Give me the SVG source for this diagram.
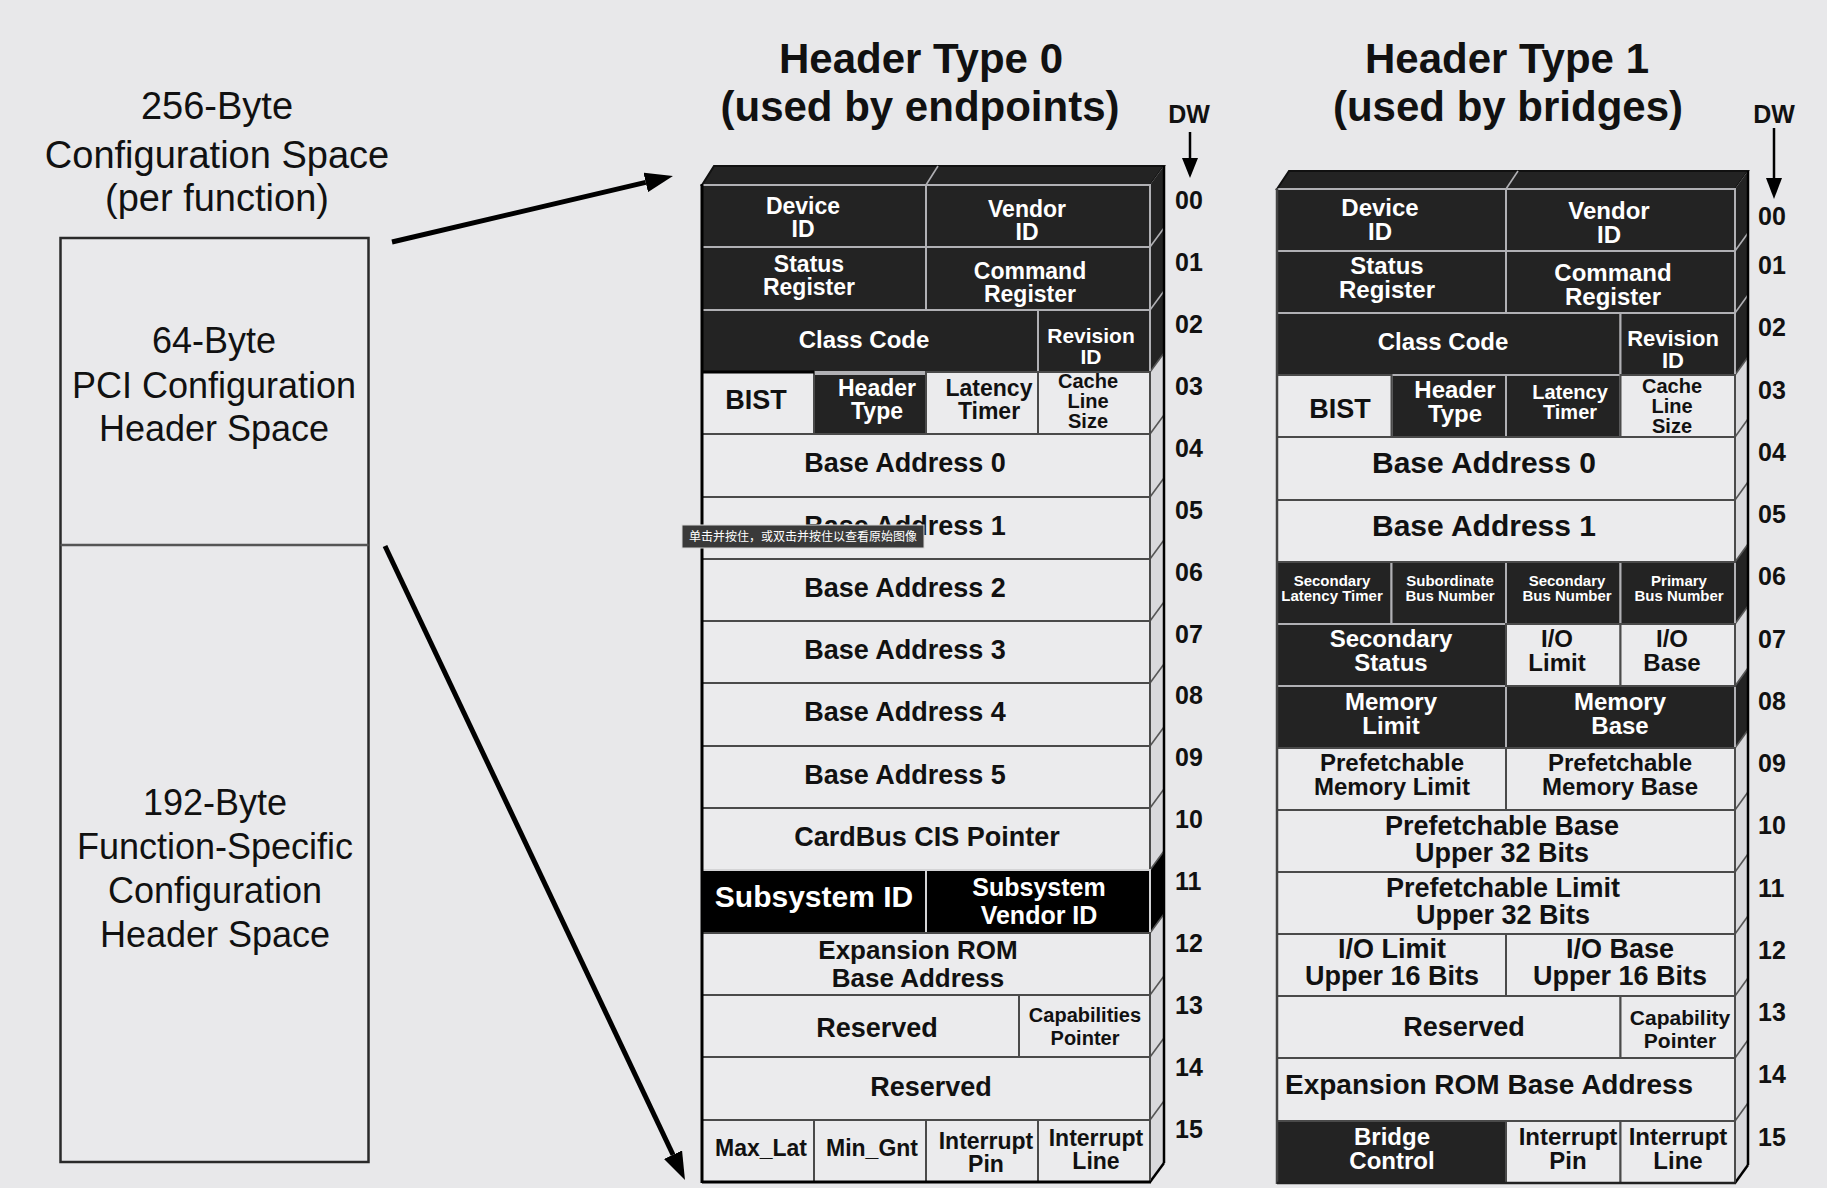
<svg xmlns="http://www.w3.org/2000/svg" width="1827" height="1188" viewBox="0 0 1827 1188">
<defs>
<style>
.bg{fill:#e8e8ea}
.d{fill:#232323;stroke:#b0b0b4;stroke-width:2}
.k{fill:#000;stroke:#d4d4d6;stroke-width:2}
.l{fill:#ebebed;stroke:#4a4a4a;stroke-width:2}
.sl{fill:#d9d9dc}
.sd{fill:#232323}
.dl{stroke:#b0b0b4;stroke-width:1.6;fill:none}
.dg{stroke:#555;stroke-width:1.6;fill:none}
.edge{stroke:#000;stroke-width:3;fill:none}
.t{font-family:"Liberation Sans",Arial,Helvetica,sans-serif;font-weight:bold;text-anchor:middle;fill:#111}
.w{fill:#fff}
.r{font-family:"Liberation Sans",Arial,Helvetica,sans-serif;text-anchor:middle;fill:#111}
.n{font-family:"Liberation Sans",Arial,Helvetica,sans-serif;font-weight:bold;font-size:25px;fill:#111}
.s23{font-size:23px}.s24{font-size:24px}.s22{font-size:22px}.s20{font-size:20px}.s21{font-size:21px}
.s25{font-size:25px}.s26{font-size:26px}.s27{font-size:27px}.s28{font-size:28px}.s30{font-size:30px}.s15{font-size:15px}
</style>
<marker id="ah" viewBox="0 0 28 20" refX="0" refY="10" markerWidth="28" markerHeight="20" markerUnits="userSpaceOnUse" orient="auto">
<path d="M0,0 L28,10 L0,20 z" fill="#000"/>
</marker>
</defs>
<rect class="bg" x="0" y="0" width="1827" height="1188"/>

<!-- Left: 256-byte configuration space -->
<g id="config-space">
<text class="r" font-size="38" x="217" y="119">256-Byte</text>
<text class="r" font-size="38" x="217" y="168">Configuration Space</text>
<text class="r" font-size="38" x="217" y="211">(per function)</text>
<rect x="60.5" y="238" width="308" height="924" fill="#e9e9eb" stroke="#2a2a2a" stroke-width="2.5"/>
</g>
<g id="pci-header-space">
<line x1="60.5" y1="545" x2="368.5" y2="545" stroke="#555" stroke-width="2.5"/>
<text class="r" font-size="36" x="214" y="353">64-Byte</text>
<text class="r" font-size="36" x="214" y="398">PCI Configuration</text>
<text class="r" font-size="36" x="214" y="441">Header Space</text>
</g>
<g id="function-specific-space">
<text class="r" font-size="36" x="215" y="815">192-Byte</text>
<text class="r" font-size="36" x="215" y="859">Function-Specific</text>
<text class="r" font-size="36" x="215" y="903">Configuration</text>
<text class="r" font-size="36" x="215" y="947">Header Space</text>
</g>

<!-- Connectors -->
<g id="connectors" stroke="#000" fill="#000">
<line x1="392" y1="242" x2="645.7" y2="182.4" stroke-width="5" marker-end="url(#ah)"/>
<line x1="385" y1="546" x2="673" y2="1154.7" stroke-width="5" marker-end="url(#ah)"/>
<line x1="1190" y1="132" x2="1190" y2="160" stroke-width="2.5"/>
<polygon points="1182,158 1198,158 1190,178" stroke="none"/>
<line x1="1774" y1="128" x2="1774" y2="180" stroke-width="2.5"/>
<polygon points="1766,178 1782,178 1774,199" stroke="none"/>
</g>

<!-- Titles -->
<g id="title-type0">
<text class="t" font-size="42" x="921" y="73">Header Type 0</text>
<text class="t" font-size="42" x="920" y="121">(used by endpoints)</text>
<text class="t" font-size="25" x="1189" y="123">DW</text>
</g>
<g id="title-type1">
<text class="t" font-size="42" x="1507" y="73">Header Type 1</text>
<text class="t" font-size="42" x="1508" y="121">(used by bridges)</text>
<text class="t" font-size="25" x="1774" y="123">DW</text>
</g>

<!-- ============ TABLE 0 ============ -->
<g id="type0-frame">
<polygon points="702,185 714,166 1164,166 1150,185" fill="#232323" stroke="#111" stroke-width="2"/>
<line x1="926" y1="185" x2="938" y2="166" class="dl"/>
<polygon class="sl" points="1150,185 1164,166 1164,1163 1150,1182"/>
<polygon class="sd" points="1150,185 1164,166 1164,353 1150,372"/>
<polygon points="1150,870 1164,851 1164,914 1150,933" fill="#000"/>
<line class="dl" x1="1150" y1="247" x2="1164" y2="228"/>
<line class="dl" x1="1150" y1="310" x2="1164" y2="291"/>
<line class="dg" x1="1150" y1="372" x2="1164" y2="353"/>
<line class="dg" x1="1150" y1="434" x2="1164" y2="415"/>
<line class="dg" x1="1150" y1="497" x2="1164" y2="478"/>
<line class="dg" x1="1150" y1="559" x2="1164" y2="540"/>
<line class="dg" x1="1150" y1="621" x2="1164" y2="602"/>
<line class="dg" x1="1150" y1="683" x2="1164" y2="664"/>
<line class="dg" x1="1150" y1="746" x2="1164" y2="727"/>
<line class="dg" x1="1150" y1="808" x2="1164" y2="789"/>
<line class="dg" x1="1150" y1="870" x2="1164" y2="851"/>
<line class="dg" x1="1150" y1="933" x2="1164" y2="914"/>
<line class="dg" x1="1150" y1="995" x2="1164" y2="976"/>
<line class="dg" x1="1150" y1="1057" x2="1164" y2="1038"/>
<line class="dg" x1="1150" y1="1120" x2="1164" y2="1101"/>
<line x1="1164" y1="166" x2="1164" y2="1163" stroke="#000" stroke-width="2.5"/>
<line x1="1150" y1="1182" x2="1164" y2="1163" stroke="#000" stroke-width="2.5"/>
</g>

<g id="t0-device-id"><rect class="d" x="702" y="185" width="224" height="62"/><text class="t w s23"><tspan x="803" y="214">Device</tspan><tspan x="803" y="237">ID</tspan></text></g>
<g id="t0-vendor-id"><rect class="d" x="926" y="185" width="224" height="62"/><text class="t w s23"><tspan x="1027" y="217">Vendor</tspan><tspan x="1027" y="240">ID</tspan></text></g>
<g id="t0-status"><rect class="d" x="702" y="247" width="224" height="63"/><text class="t w s23"><tspan x="809" y="272">Status</tspan><tspan x="809" y="295">Register</tspan></text></g>
<g id="t0-command"><rect class="d" x="926" y="247" width="224" height="63"/><text class="t w s23"><tspan x="1030" y="279">Command</tspan><tspan x="1030" y="302">Register</tspan></text></g>
<g id="t0-class-code"><rect class="d" x="702" y="310" width="336" height="62"/><text class="t w s24" x="864" y="348">Class Code</text></g>
<g id="t0-revision-id"><rect class="d" x="1038" y="310" width="112" height="62"/><text class="t w s21"><tspan x="1091" y="343">Revision</tspan><tspan x="1091" y="364">ID</tspan></text></g>
<g id="t0-header-type"><rect class="d" x="814" y="374" width="112" height="60"/><text class="t w s23"><tspan x="877" y="396">Header</tspan><tspan x="877" y="419">Type</tspan></text></g>
<g id="t0-bist"><rect class="l" x="702" y="372" width="112" height="62"/><text class="t s27" x="756" y="409">BIST</text></g>
<g id="t0-latency"><rect class="l" x="926" y="372" width="112" height="62"/><text class="t s23"><tspan x="989" y="396">Latency</tspan><tspan x="989" y="419">Timer</tspan></text></g>
<g id="t0-cache"><rect class="l" x="1038" y="372" width="112" height="62"/><text class="t s20"><tspan x="1088" y="388">Cache</tspan><tspan x="1088" y="408">Line</tspan><tspan x="1088" y="428">Size</tspan></text></g>
<line x1="702" y1="372" x2="814" y2="372" stroke="#000" stroke-width="3"/>
<g id="t0-bar0"><rect class="l" x="702" y="434" width="448" height="63"/><text class="t s27" x="905" y="472">Base Address 0</text></g>
<g id="t0-bar1"><rect class="l" x="702" y="497" width="448" height="62"/><text class="t s27" x="905" y="535">Base Address 1</text></g>
<g id="t0-bar2"><rect class="l" x="702" y="559" width="448" height="62"/><text class="t s27" x="905" y="597">Base Address 2</text></g>
<g id="t0-bar3"><rect class="l" x="702" y="621" width="448" height="62"/><text class="t s27" x="905" y="659">Base Address 3</text></g>
<g id="t0-bar4"><rect class="l" x="702" y="683" width="448" height="63"/><text class="t s27" x="905" y="721">Base Address 4</text></g>
<g id="t0-bar5"><rect class="l" x="702" y="746" width="448" height="62"/><text class="t s27" x="905" y="784">Base Address 5</text></g>
<g id="t0-cardbus"><rect class="l" x="702" y="808" width="448" height="62"/><text class="t s27" x="927" y="846">CardBus CIS Pointer</text></g>
<g id="t0-subsystem-id"><rect class="k" x="702" y="870" width="224" height="63"/><text class="t w s30" x="814" y="907">Subsystem ID</text></g>
<g id="t0-subsystem-vendor-id"><rect class="k" x="926" y="870" width="224" height="63"/><text class="t w s25"><tspan x="1039" y="896">Subsystem</tspan><tspan x="1039" y="924">Vendor ID</tspan></text></g>
<g id="t0-expansion-rom"><rect class="l" x="702" y="933" width="448" height="62"/><text class="t s26"><tspan x="918" y="959">Expansion ROM</tspan><tspan x="918" y="987">Base Address</tspan></text></g>
<g id="t0-reserved1"><rect class="l" x="702" y="995" width="317" height="62"/><text class="t s27" x="877" y="1037">Reserved</text></g>
<g id="t0-cap-ptr"><rect class="l" x="1019" y="995" width="131" height="62"/><text class="t s20"><tspan x="1085" y="1022">Capabilities</tspan><tspan x="1085" y="1045">Pointer</tspan></text></g>
<g id="t0-reserved2"><rect class="l" x="702" y="1057" width="448" height="63"/><text class="t s27" x="931" y="1096">Reserved</text></g>
<g id="t0-max-lat"><rect class="l" x="702" y="1120" width="112" height="62"/><text class="t s23" x="761" y="1156">Max_Lat</text></g>
<g id="t0-min-gnt"><rect class="l" x="814" y="1120" width="112" height="62"/><text class="t s23" x="872" y="1156">Min_Gnt</text></g>
<g id="t0-int-pin"><rect class="l" x="926" y="1120" width="112" height="62"/><text class="t s23"><tspan x="986" y="1149">Interrupt</tspan><tspan x="986" y="1172">Pin</tspan></text></g>
<g id="t0-int-line"><rect class="l" x="1038" y="1120" width="112" height="62"/><text class="t s23"><tspan x="1096" y="1146">Interrupt</tspan><tspan x="1096" y="1169">Line</tspan></text></g>
<g id="type0-edges">
<line class="edge" x1="702" y1="184" x2="702" y2="1183"/>
<line class="edge" x1="702" y1="1182" x2="1151" y2="1182"/>
</g>

<g id="type0-dw" class="n">
<text x="1175" y="209">00</text><text x="1175" y="271">01</text><text x="1175" y="333">02</text><text x="1175" y="395">03</text>
<text x="1175" y="457">04</text><text x="1175" y="519">05</text><text x="1175" y="581">06</text><text x="1175" y="643">07</text>
<text x="1175" y="704">08</text><text x="1175" y="766">09</text><text x="1175" y="828">10</text><text x="1175" y="890">11</text>
<text x="1175" y="952">12</text><text x="1175" y="1014">13</text><text x="1175" y="1076">14</text><text x="1175" y="1138">15</text>
</g>

<!-- ============ TABLE 1 ============ -->
<g id="type1-frame">
<polygon points="1277,189 1289,171 1748,171 1735,189" fill="#232323" stroke="#111" stroke-width="2"/>
<line x1="1506" y1="189" x2="1518" y2="171" class="dl"/>
<polygon class="sl" points="1735,189 1748,171 1748,1165 1735,1183"/>
<polygon class="sd" points="1735,189 1748,171 1748,357 1735,375"/>
<polygon class="sd" points="1735,562 1748,544 1748,606 1735,624"/>
<polygon class="sd" points="1735,686 1748,668 1748,730 1735,748"/>
<line class="dl" x1="1735" y1="251" x2="1748" y2="233"/>
<line class="dl" x1="1735" y1="313" x2="1748" y2="295"/>
<line class="dg" x1="1735" y1="375" x2="1748" y2="357"/>
<line class="dg" x1="1735" y1="437" x2="1748" y2="419"/>
<line class="dg" x1="1735" y1="500" x2="1748" y2="482"/>
<line class="dg" x1="1735" y1="562" x2="1748" y2="544"/>
<line class="dg" x1="1735" y1="624" x2="1748" y2="606"/>
<line class="dg" x1="1735" y1="686" x2="1748" y2="668"/>
<line class="dg" x1="1735" y1="748" x2="1748" y2="730"/>
<line class="dg" x1="1735" y1="810" x2="1748" y2="792"/>
<line class="dg" x1="1735" y1="872" x2="1748" y2="854"/>
<line class="dg" x1="1735" y1="934" x2="1748" y2="916"/>
<line class="dg" x1="1735" y1="996" x2="1748" y2="978"/>
<line class="dg" x1="1735" y1="1058" x2="1748" y2="1040"/>
<line class="dg" x1="1735" y1="1121" x2="1748" y2="1103"/>
<line x1="1748" y1="171" x2="1748" y2="1165" stroke="#000" stroke-width="2.5"/>
<line x1="1735" y1="1183" x2="1748" y2="1165" stroke="#000" stroke-width="2.5"/>
</g>

<g id="t1-device-id"><rect class="d" x="1277" y="189" width="229" height="62"/><text class="t w s24"><tspan x="1380" y="216">Device</tspan><tspan x="1380" y="240">ID</tspan></text></g>
<g id="t1-vendor-id"><rect class="d" x="1506" y="189" width="229" height="62"/><text class="t w s24"><tspan x="1609" y="219">Vendor</tspan><tspan x="1609" y="243">ID</tspan></text></g>
<g id="t1-status"><rect class="d" x="1277" y="251" width="229" height="62"/><text class="t w s24"><tspan x="1387" y="274">Status</tspan><tspan x="1387" y="298">Register</tspan></text></g>
<g id="t1-command"><rect class="d" x="1506" y="251" width="229" height="62"/><text class="t w s24"><tspan x="1613" y="281">Command</tspan><tspan x="1613" y="305">Register</tspan></text></g>
<g id="t1-class-code"><rect class="d" x="1277" y="313" width="343.5" height="62"/><text class="t w s24" x="1443" y="350">Class Code</text></g>
<g id="t1-revision-id"><rect class="d" x="1620.5" y="313" width="114.5" height="62"/><text class="t w s22"><tspan x="1673" y="346">Revision</tspan><tspan x="1673" y="368">ID</tspan></text></g>
<g id="t1-header-type"><rect class="d" x="1391.5" y="375" width="114.5" height="62"/><text class="t w s24"><tspan x="1455" y="398">Header</tspan><tspan x="1455" y="422">Type</tspan></text></g>
<g id="t1-latency"><rect class="d" x="1506" y="375" width="114.5" height="62"/><text class="t w s20"><tspan x="1570" y="399">Latency</tspan><tspan x="1570" y="419">Timer</tspan></text></g>
<g id="t1-sec-latency"><rect class="d" x="1277" y="562" width="114.5" height="62"/><text class="t w s15"><tspan x="1332" y="586">Secondary</tspan><tspan x="1332" y="601">Latency Timer</tspan></text></g>
<g id="t1-sub-bus"><rect class="d" x="1391.5" y="562" width="114.5" height="62"/><text class="t w s15"><tspan x="1450" y="586">Subordinate</tspan><tspan x="1450" y="601">Bus Number</tspan></text></g>
<g id="t1-sec-bus"><rect class="d" x="1506" y="562" width="114.5" height="62"/><text class="t w s15"><tspan x="1567" y="586">Secondary</tspan><tspan x="1567" y="601">Bus Number</tspan></text></g>
<g id="t1-pri-bus"><rect class="d" x="1620.5" y="562" width="114.5" height="62"/><text class="t w s15"><tspan x="1679" y="586">Primary</tspan><tspan x="1679" y="601">Bus Number</tspan></text></g>
<g id="t1-sec-status"><rect class="d" x="1277" y="624" width="229" height="62"/><text class="t w s24"><tspan x="1391" y="647">Secondary</tspan><tspan x="1391" y="671">Status</tspan></text></g>
<g id="t1-mem-limit"><rect class="d" x="1277" y="686" width="229" height="62"/><text class="t w s24"><tspan x="1391" y="710">Memory</tspan><tspan x="1391" y="734">Limit</tspan></text></g>
<g id="t1-mem-base"><rect class="d" x="1506" y="686" width="229" height="62"/><text class="t w s24"><tspan x="1620" y="710">Memory</tspan><tspan x="1620" y="734">Base</tspan></text></g>
<g id="t1-bridge-control"><rect class="d" x="1277" y="1121" width="229" height="62"/><text class="t w s24"><tspan x="1392" y="1145">Bridge</tspan><tspan x="1392" y="1169">Control</tspan></text></g>

<g id="t1-bist"><rect class="l" x="1277" y="375" width="114.5" height="62"/><text class="t s27" x="1340" y="418">BIST</text></g>
<g id="t1-cache"><rect class="l" x="1620.5" y="375" width="114.5" height="62"/><text class="t s20"><tspan x="1672" y="393">Cache</tspan><tspan x="1672" y="413">Line</tspan><tspan x="1672" y="433">Size</tspan></text></g>
<g id="t1-bar0"><rect class="l" x="1277" y="437" width="458" height="63"/><text class="t s30" x="1484" y="473">Base Address 0</text></g>
<g id="t1-bar1"><rect class="l" x="1277" y="500" width="458" height="62"/><text class="t s30" x="1484" y="536">Base Address 1</text></g>
<g id="t1-io-limit"><rect class="l" x="1506" y="624" width="114.5" height="62"/><text class="t s24"><tspan x="1557" y="647">I/O</tspan><tspan x="1557" y="671">Limit</tspan></text></g>
<g id="t1-io-base"><rect class="l" x="1620.5" y="624" width="114.5" height="62"/><text class="t s24"><tspan x="1672" y="647">I/O</tspan><tspan x="1672" y="671">Base</tspan></text></g>
<g id="t1-pf-mem-limit"><rect class="l" x="1277" y="748" width="229" height="62"/><text class="t s24"><tspan x="1392" y="771">Prefetchable</tspan><tspan x="1392" y="795">Memory Limit</tspan></text></g>
<g id="t1-pf-mem-base"><rect class="l" x="1506" y="748" width="229" height="62"/><text class="t s24"><tspan x="1620" y="771">Prefetchable</tspan><tspan x="1620" y="795">Memory Base</tspan></text></g>
<g id="t1-pf-base-upper"><rect class="l" x="1277" y="810" width="458" height="62"/><text class="t s27"><tspan x="1502" y="835">Prefetchable Base</tspan><tspan x="1502" y="862">Upper 32 Bits</tspan></text></g>
<g id="t1-pf-limit-upper"><rect class="l" x="1277" y="872" width="458" height="62"/><text class="t s27"><tspan x="1503" y="897">Prefetchable Limit</tspan><tspan x="1503" y="924">Upper 32 Bits</tspan></text></g>
<g id="t1-io-limit-upper"><rect class="l" x="1277" y="934" width="229" height="62"/><text class="t s27"><tspan x="1392" y="958">I/O Limit</tspan><tspan x="1392" y="985">Upper 16 Bits</tspan></text></g>
<g id="t1-io-base-upper"><rect class="l" x="1506" y="934" width="229" height="62"/><text class="t s27"><tspan x="1620" y="958">I/O Base</tspan><tspan x="1620" y="985">Upper 16 Bits</tspan></text></g>
<g id="t1-reserved"><rect class="l" x="1277" y="996" width="343.5" height="62"/><text class="t s27" x="1464" y="1036">Reserved</text></g>
<g id="t1-cap-ptr"><rect class="l" x="1620.5" y="996" width="114.5" height="62"/><text class="t s21"><tspan x="1680" y="1025">Capability</tspan><tspan x="1680" y="1048">Pointer</tspan></text></g>
<g id="t1-expansion-rom"><rect class="l" x="1277" y="1058" width="458" height="63"/><text class="t s28" style="text-anchor:start" x="1285" y="1094">Expansion ROM Base Address</text></g>
<g id="t1-int-pin"><rect class="l" x="1506" y="1121" width="114.5" height="62"/><text class="t s24"><tspan x="1568" y="1145">Interrupt</tspan><tspan x="1568" y="1169">Pin</tspan></text></g>
<g id="t1-int-line"><rect class="l" x="1620.5" y="1121" width="114.5" height="62"/><text class="t s24"><tspan x="1678" y="1145">Interrupt</tspan><tspan x="1678" y="1169">Line</tspan></text></g>
<g id="type1-edges">
<line x1="1277" y1="188" x2="1277" y2="1184" stroke="#444" stroke-width="2.5"/>
<line x1="1277" y1="1183" x2="1736" y2="1183" stroke="#222" stroke-width="2.5"/>
</g>

<g id="type1-dw" class="n">
<text x="1758" y="225">00</text><text x="1758" y="274">01</text><text x="1758" y="336">02</text><text x="1758" y="399">03</text>
<text x="1758" y="461">04</text><text x="1758" y="523">05</text><text x="1758" y="585">06</text><text x="1758" y="648">07</text>
<text x="1758" y="710">08</text><text x="1758" y="772">09</text><text x="1758" y="834">10</text><text x="1758" y="897">11</text>
<text x="1758" y="959">12</text><text x="1758" y="1021">13</text><text x="1758" y="1083">14</text><text x="1758" y="1146">15</text>
</g>

<!-- Tooltip overlay shown in the picture -->
<g id="tooltip">
<rect x="682" y="525" width="242" height="23" fill="#3a3a3a" stroke="#d8d8d8" stroke-width="1"/>
<text x="689" y="541" font-size="12" fill="#fff" font-family="'Noto Sans CJK SC','Noto Sans CJK JP',sans-serif" textLength="228">单击并按住，或双击并按住以查看原始图像</text>
</g>
</svg>
